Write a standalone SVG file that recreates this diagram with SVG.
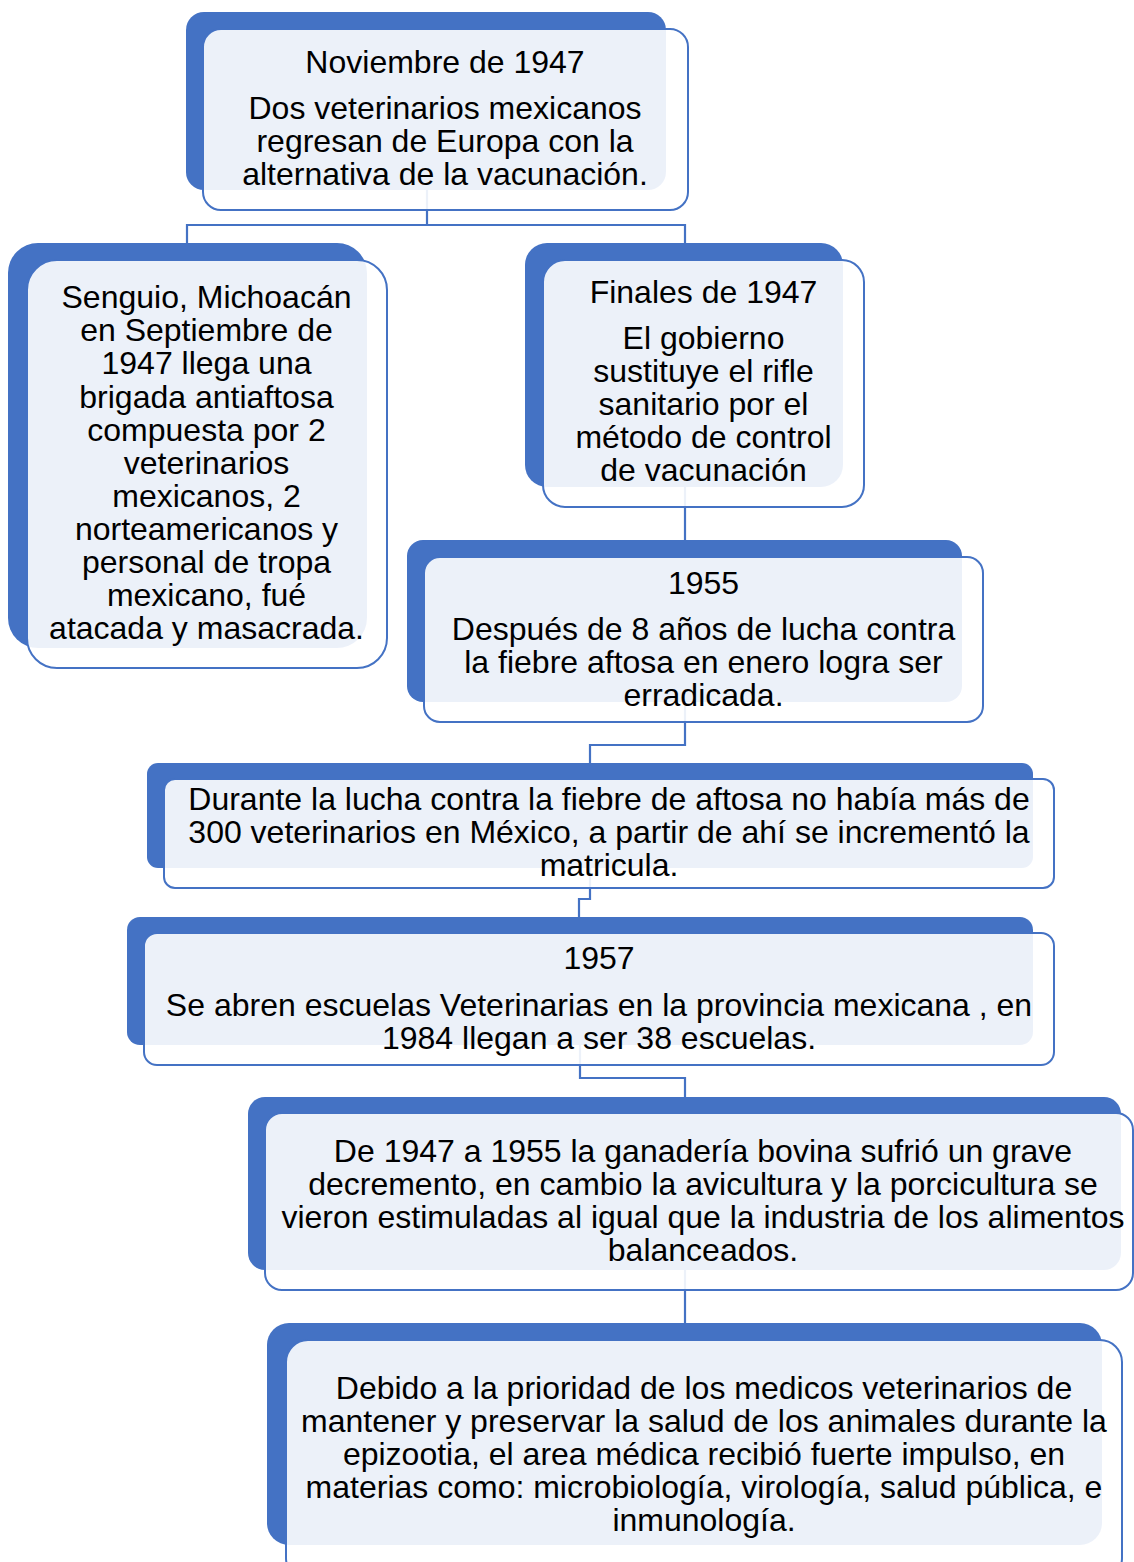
<svg xmlns="http://www.w3.org/2000/svg" width="1134" height="1562" viewBox="0 0 1134 1562">
<style>
.back{fill:#4472C4;}
.front{fill:#FFFFFF;fill-opacity:0.9;stroke:#4472C4;stroke-width:2;}
.conn{fill:none;stroke:#4472C4;stroke-width:2.2;}
text{font-family:"Liberation Sans",Arial,sans-serif;font-size:32px;fill:#000000;text-anchor:middle;}
</style>
<rect width="1134" height="1562" fill="#FFFFFF"/>
<g id="connectors">
<path class="conn" d="M427,190 V225 M187,243 V225 H685 V243"/>
<path class="conn" d="M685,487 V540"/>
<path class="conn" d="M685,702 V745 H590 V763"/>
<path class="conn" d="M590,868 V899 H579 V918"/>
<path class="conn" d="M580,1045 V1078 H685 V1097"/>
<path class="conn" d="M685,1270 V1323"/>
</g>
<g id="node1">
<rect class="back" x="186" y="12" width="480" height="178" rx="18"/>
<rect class="front" x="203" y="29" width="485" height="181" rx="18"/>
<text x="445" y="73">Noviembre de 1947</text>
<text x="445" y="118.5">Dos veterinarios mexicanos</text>
<text x="445" y="151.5">regresan de Europa con la</text>
<text x="445" y="184.5">alternativa de la vacunación.</text>
</g>
<g id="node2">
<rect class="back" x="8" y="243" width="359" height="405" rx="30"/>
<rect class="front" x="27" y="260" width="360" height="408" rx="30"/>
<text x="206.5" y="308">Senguio, Michoacán</text>
<text x="206.5" y="341">en Septiembre de</text>
<text x="206.5" y="374">1947 llega una</text>
<text x="206.5" y="407.5">brigada antiaftosa</text>
<text x="206.5" y="440.5">compuesta por 2</text>
<text x="206.5" y="473.5">veterinarios</text>
<text x="206.5" y="507">mexicanos, 2</text>
<text x="206.5" y="540">norteamericanos y</text>
<text x="206.5" y="573">personal de tropa</text>
<text x="206.5" y="606">mexicano, fué</text>
<text x="206.5" y="639">atacada y masacrada.</text>
</g>
<g id="node3">
<rect class="back" x="525" y="243" width="318" height="244" rx="22"/>
<rect class="front" x="543" y="260" width="321" height="247" rx="22"/>
<text x="703.5" y="303">Finales de 1947</text>
<text x="703.5" y="349">El gobierno</text>
<text x="703.5" y="382">sustituye el rifle</text>
<text x="703.5" y="415">sanitario por el</text>
<text x="703.5" y="448">método de control</text>
<text x="703.5" y="481">de vacunación</text>
</g>
<g id="node4">
<rect class="back" x="407" y="540" width="555" height="162" rx="16"/>
<rect class="front" x="424" y="557" width="559" height="165" rx="16"/>
<text x="703.5" y="594">1955</text>
<text x="703.5" y="639.5">Después de 8 años de lucha contra</text>
<text x="703.5" y="672.5">la fiebre aftosa en enero logra ser</text>
<text x="703.5" y="705.5">erradicada.</text>
</g>
<g id="node5">
<rect class="back" x="147" y="763" width="886" height="105" rx="11"/>
<rect class="front" x="164" y="779" width="890" height="109" rx="11"/>
<text x="609" y="810">Durante la lucha contra la fiebre de aftosa no había más de</text>
<text x="609" y="843">300 veterinarios en México, a partir de ahí se incrementó la</text>
<text x="609" y="876">matricula.</text>
</g>
<g id="node6">
<rect class="back" x="127" y="917" width="906" height="128" rx="13"/>
<rect class="front" x="144" y="933" width="910" height="132" rx="13"/>
<text x="599" y="969">1957</text>
<text x="599" y="1015.5">Se abren escuelas Veterinarias en la provincia mexicana , en</text>
<text x="599" y="1048.5">1984 llegan a ser 38 escuelas.</text>
</g>
<g id="node7">
<rect class="back" x="248" y="1097" width="873" height="173" rx="17"/>
<rect class="front" x="265" y="1113" width="868" height="177" rx="17"/>
<text x="703" y="1161.5">De 1947 a 1955 la ganadería bovina sufrió un grave</text>
<text x="703" y="1194.5">decremento, en cambio la avicultura y la porcicultura se</text>
<text x="703" y="1227.5">vieron estimuladas al igual que la industria de los alimentos</text>
<text x="703" y="1260.5">balanceados.</text>
</g>
<g id="node8">
<rect class="back" x="267" y="1323" width="835" height="222" rx="22"/>
<rect class="front" x="286" y="1340" width="836" height="240" rx="22"/>
<text x="704" y="1398.5">Debido a la prioridad de los medicos veterinarios de</text>
<text x="704" y="1431.5">mantener y preservar la salud de los animales durante la</text>
<text x="704" y="1464.5">epizootia, el area médica recibió fuerte impulso, en</text>
<text x="704" y="1497.5">materias como: microbiología, virología, salud pública, e</text>
<text x="704" y="1530.5">inmunología.</text>
</g>
</svg>
